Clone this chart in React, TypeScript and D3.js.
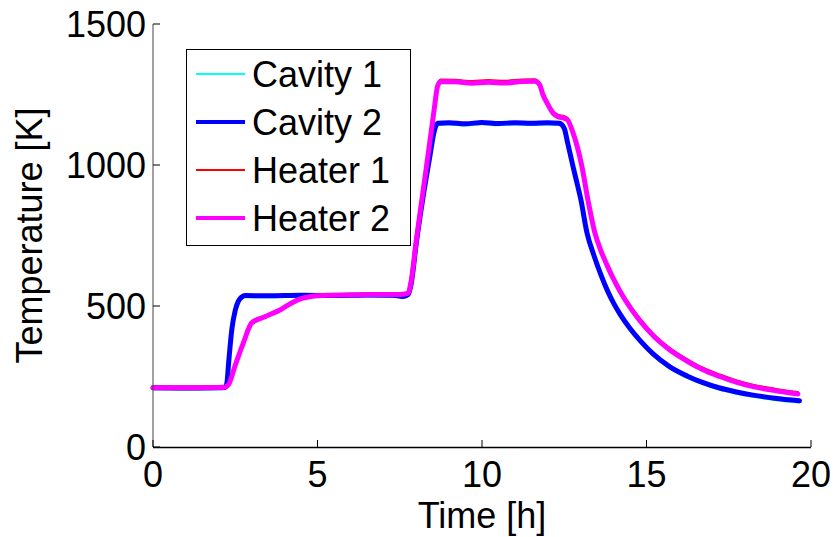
import React from "react";
import * as d3 from "d3";

const xTicks = [0, 5, 10, 15, 20];
const yTicks = [0, 500, 1000, 1500];

const cavity1: [number, number][] = [
  [0, 205], [1, 204], [2, 205], [2.2, 207], [2.25, 224], [2.3, 294], [2.4, 414], [2.5, 479], [2.6, 512],
  [2.7, 527], [2.8, 531], [3.5, 531], [4.5, 533], [5.5, 532], [6.5, 534], [7.3, 533], [7.6, 529], [7.75, 535],
  [7.85, 575], [8.0, 715], [8.2, 875], [8.4, 1015], [8.55, 1114], [8.65, 1142], [9, 1144], [9.5, 1140],
  [10, 1145], [10.5, 1141], [11, 1144], [11.5, 1142], [12, 1144], [12.35, 1142], [12.5, 1124], [12.6, 1074],
  [12.77, 987], [12.9, 924], [13.0, 874], [13.19, 754], [13.4, 674], [13.6, 609], [13.83, 544], [14.0, 504],
  [14.19, 466], [14.5, 414], [14.8, 372], [15.2, 324], [15.7, 279], [16.23, 246], [16.7, 223], [17.2, 204],
  [17.7, 190], [18.24, 178], [18.9, 167], [19.65, 158],
];

const cavity2: [number, number][] = [
  [0, 210], [1, 209], [2, 210], [2.2, 212], [2.25, 230], [2.3, 300], [2.4, 420], [2.5, 485], [2.6, 518],
  [2.7, 532], [2.8, 537], [3.5, 536], [4.5, 538], [5.5, 537], [6.5, 539], [7.3, 538], [7.6, 534], [7.75, 540],
  [7.85, 580], [8.0, 720], [8.2, 880], [8.4, 1020], [8.55, 1120], [8.65, 1148], [9, 1150], [9.5, 1146],
  [10, 1151], [10.5, 1147], [11, 1150], [11.5, 1148], [12, 1150], [12.35, 1148], [12.5, 1130], [12.6, 1080],
  [12.77, 993], [12.9, 930], [13.0, 880], [13.19, 760], [13.4, 680], [13.6, 615], [13.83, 550], [14.0, 510],
  [14.19, 472], [14.5, 420], [14.8, 378], [15.2, 330], [15.7, 285], [16.23, 252], [16.7, 229], [17.2, 210],
  [17.7, 196], [18.24, 184], [18.9, 173], [19.65, 164],
];

const heater1: [number, number][] = [
  [0, 214], [1, 214], [2, 215], [2.2, 217], [2.3, 226], [2.5, 294], [2.75, 374], [3.0, 444], [3.4, 466],
  [3.86, 490], [4.2, 514], [4.5, 530], [4.8, 538], [5.3, 542], [6, 543], [6.5, 544], [7, 545], [7.5, 545],
  [7.75, 549], [7.85, 594], [8.0, 734], [8.2, 904], [8.4, 1074], [8.55, 1205], [8.65, 1286], [8.75, 1303],
  [9.2, 1302], [9.7, 1298], [10.2, 1301], [10.7, 1299], [11.2, 1303], [11.6, 1304], [11.75, 1292],
  [11.85, 1257], [12.0, 1222], [12.16, 1191], [12.3, 1179], [12.5, 1173], [12.6, 1167], [12.75, 1127],
  [13.04, 1000], [13.22, 883], [13.43, 767], [13.6, 707], [13.8, 652], [14.0, 602], [14.19, 560], [14.5, 502],
  [14.8, 455], [15.2, 402], [15.7, 352], [16.23, 312], [16.7, 282], [17.23, 257], [17.7, 238], [18.24, 221],
  [18.9, 207], [19.6, 195],
];

const heater2: [number, number][] = [
  [0, 210], [1, 210], [2, 211], [2.2, 213], [2.3, 222], [2.5, 290], [2.75, 370], [3.0, 440], [3.4, 462],
  [3.86, 486], [4.2, 510], [4.5, 526], [4.8, 534], [5.3, 538], [6, 539], [6.5, 540], [7, 541], [7.5, 541],
  [7.75, 545], [7.85, 590], [8.0, 730], [8.2, 900], [8.4, 1070], [8.55, 1200], [8.65, 1280], [8.75, 1296],
  [9.2, 1295], [9.7, 1290], [10.2, 1293], [10.7, 1291], [11.2, 1296], [11.6, 1297], [11.75, 1285],
  [11.85, 1250], [12.0, 1215], [12.16, 1184], [12.3, 1172], [12.5, 1166], [12.6, 1160], [12.75, 1120],
  [13.04, 993], [13.22, 876], [13.43, 760], [13.6, 700], [13.8, 645], [14.0, 595], [14.19, 553], [14.5, 495],
  [14.8, 448], [15.2, 395], [15.7, 345], [16.23, 305], [16.7, 275], [17.23, 250], [17.7, 231], [18.24, 214],
  [18.9, 200], [19.6, 188],
];

const seriesNames = ["Cavity 1", "Cavity 2", "Heater 1", "Heater 2"];
const seriesData = [cavity1, cavity2, heater1, heater2];
const seriesColors = ["#00FFFF", "#0000FF", "#FF0000", "#FF00FF"];
const seriesWidths = [2, 5, 2, 5];

export default function App() {
  const W = 835, H = 537;
  const left = 153, right = 811, top = 24, bottom = 447;
  const x = d3.scaleLinear().domain([0, 20]).range([left, right]);
  const y = d3.scaleLinear().domain([0, 1500]).range([bottom, top]);
  const line = d3.line<[number, number]>().x(d => x(d[0])).y(d => y(d[1])).curve(d3.curveMonotoneX);
  const font = "'Liberation Sans', Arial, sans-serif";
  const fs = 36;
  const legX = 186, legY = 49, legW = 224, legH = 196;
  const rowY = [74, 122, 170, 218];

  return (
    <svg width={W} height={H} style={{ position: "absolute", left: 0, top: 0, background: "#fff" }} fontFamily={font}>
      <rect x={0} y={0} width={W} height={H} fill="#fff" />
      {seriesData.map((d, i) => (
        <path key={i} d={line(d) || ""} fill="none" stroke={seriesColors[i]} strokeWidth={seriesWidths[i]}
          strokeLinejoin="round" strokeLinecap="round" />
      ))}
      {/* axes */}
      <line x1={left} x2={left} y1={top} y2={bottom} stroke="#444" strokeWidth={1} />
      <line x1={left} x2={right} y1={bottom + 0.5} y2={bottom + 0.5} stroke="#000" strokeWidth={1.5} />
      {xTicks.map(t => (
        <g key={"x" + t}>
          <line x1={x(t)} x2={x(t)} y1={bottom} y2={bottom - 7} stroke="#000" strokeWidth={1} />
          <text x={x(t)} y={487} textAnchor="middle" fontSize={fs} fill="#000">{t}</text>
        </g>
      ))}
      {yTicks.map(t => (
        <g key={"y" + t}>
          <line x1={left} x2={left + 7} y1={y(t)} y2={y(t)} stroke="#000" strokeWidth={1} />
          <text x={146} y={y(t) + 13} textAnchor="end" fontSize={fs} fill="#000">{t}</text>
        </g>
      ))}
      <text x={(left + right) / 2} y={528} textAnchor="middle" fontSize={fs} fill="#000">Time [h]</text>
      <text transform={`translate(42, ${(top + bottom) / 2}) rotate(-90)`} textAnchor="middle" fontSize={fs} fill="#000">
        Temperature [K]
      </text>
      {/* legend */}
      <rect x={legX + 0.5} y={legY + 0.5} width={legW} height={legH} fill="#fff" stroke="#000" strokeWidth={1} />
      {seriesNames.map((n, i) => (
        <g key={n}>
          <line x1={196} x2={245} y1={rowY[i]} y2={rowY[i]} stroke={seriesColors[i]} strokeWidth={seriesWidths[i] === 5 ? 4 : 2} />
          <text x={252} y={rowY[i] + 13} fontSize={fs} fill="#000">{n}</text>
        </g>
      ))}
    </svg>
  );
}
